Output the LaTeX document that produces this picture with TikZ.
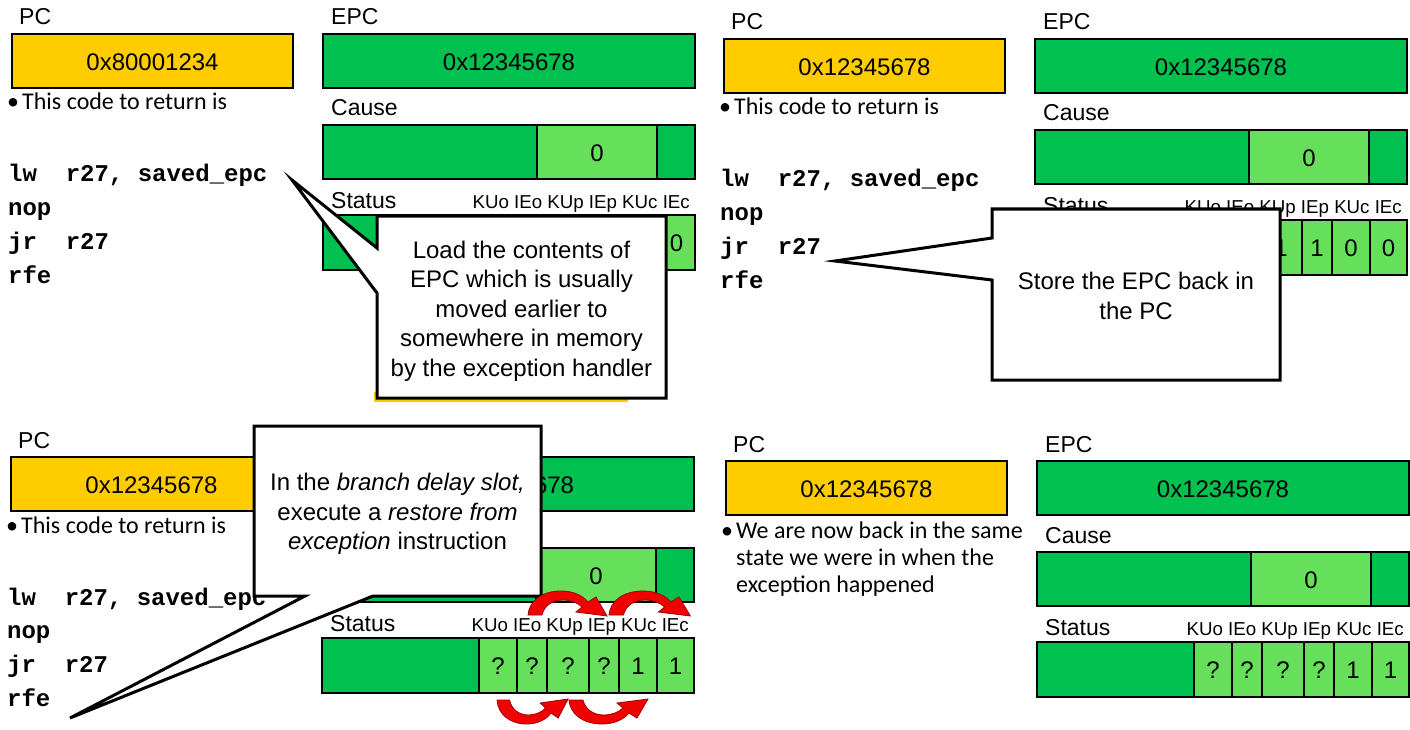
\documentclass[tikz,border=0pt]{standalone}
\usepackage{fontspec}
\setmainfont{Liberation Sans}
\newfontfamily\calfont{Carlito}
\newfontfamily\codefont{Liberation Mono}
\definecolor{pcyel}{HTML}{FFCC00}
\definecolor{dkg}{HTML}{00C050}
\definecolor{ltg}{HTML}{66E05A}
\definecolor{arrred}{HTML}{F00000}
\definecolor{arredge}{HTML}{A00000}
\newif\ifhidelbl
\tikzset{
  box/.style={draw=black, line width=1.1pt},
  val/.style={font=\fontsize{24}{28}\selectfont, inner sep=0pt},
  lbl/.style={font=\fontsize{23}{27}\selectfont, anchor=base west, inner sep=0pt},
  bits/.style={font=\fontsize{18.7}{22}\selectfont, anchor=base east, inner sep=0pt},
  bul/.style={font=\calfont\fontsize{24}{27}\selectfont, anchor=base west, inner sep=0pt},
  code/.style={font=\codefont\bfseries\fontsize{24}{28}\selectfont, anchor=base west, inner sep=0pt},
  callout/.style={draw=black, fill=white, line width=3pt, line join=miter},
  cotext/.style={font=\fontsize{24}{29.5}\selectfont, align=center, inner sep=0pt},
  redarrow/.style={fill=arrred, draw=arredge, line width=0.8pt, line join=miter},
}
% registers of one panel, in the coordinates of the top-left panel
\newcommand\regs[8]{%
  \draw[box, fill=pcyel] (12,34) rectangle (293,88);
  \node[val] (#1pcv) at (152.5,62) {#2};
  \node[lbl] (#1pcl) at (19,25) {PC};
  \draw[box, fill=dkg] (323,34) rectangle (695,88);
  \node[val] (#1epcv) at (509,62) {0x12345678};
  \ifhidelbl\else
    \node[lbl] (#1epcl) at (331,25) {EPC};
    \node[lbl] (#1causel) at (331,116) {Cause};
  \fi
  \draw[box, fill=dkg] (323,125) rectangle (695,179);
  \draw[box, fill=ltg] (537,125) rectangle (657,179);
  \node[val] (#1causev) at (597,153) {0};
  \node[lbl] (#1statl) at (331,208) {Status};
  \node[bits] (#1bits) at (690,208) {KUo IEo KUp IEp KUc IEc};
  \draw[box, fill=dkg] (323,215) rectangle (695,270);
  \foreach \a/\b in {480/518,518/548,548/590,590/620,620/658,658/695}
    \draw[box, fill=ltg] (\a,215) rectangle (\b,270);
  \node[val] (#1kuo) at (499,243) {#3};
  \node[val] (#1ieo) at (533,243) {#4};
  \node[val] (#1kup) at (569,243) {#5};
  \node[val] (#1iep) at (605,243) {#6};
  \node[val] (#1kuc) at (639,243) {#7};
  \node[val] (#1iec) at (676.5,243) {#8};
}
\newcommand\codeblock[1]{%
  \node[bul] (#1dot) at (7,110) {•};
  \node[bul] (#1btext) at (22,110) {This code to return is};
  \node[code] (#1l1) at (8,182) {lw\ \ r27, saved\_epc};
  \node[code] (#1l2) at (8,215.5) {nop};
  \node[code] (#1l3) at (8,249) {jr\ \ r27};
  \node[code] (#1l4) at (8,283) {rfe};
}
\newcommand\carrow{%
  \path[redarrow] (0,0) .. controls (1,-14) and (14,-24) .. (33,-24)
    .. controls (46,-24) and (55,-19) .. (60,-13) -- (68,-18) -- (79,1)
    -- (48,-3) -- (54,-8) .. controls (50,-12) and (43,-15) .. (35,-15)
    .. controls (24,-15) and (16,-9) .. (14,0) -- cycle;
}
\begin{document}
\begin{tikzpicture}[x=1pt,y=-1pt]
\useasboundingbox (0,0) rectangle (1410,730);
\fill[white] (0,0) rectangle (1410,730);
% panel 1
\begin{scope}
  \regs{a}{0x80001234}{}{}{}{}{}{0}
  \codeblock{a}
\end{scope}
% panel 2
\begin{scope}[shift={(712,5)}]
  \regs{b}{0x12345678}{}{}{1}{1}{0}{0}
  \codeblock{b}
\end{scope}
% panel 3 (its EPC and Cause labels lie under the callout)
\begin{scope}[shift={(-1,423)}]
  \hidelbltrue
  \regs{c}{0x12345678}{?}{?}{?}{?}{1}{1}
  \hidelblfalse
  \codeblock{c}
\end{scope}
% panel 4
\begin{scope}[shift={(714,427)}]
  \regs{d}{0x12345678}{?}{?}{?}{?}{1}{1}
  \node[bul] (ddot) at (7,111) {•};
  \node[bul] (dt1) at (22,111) {We are now back in the same};
  \node[bul] (dt2) at (22,138) {state we were in when the};
  \node[bul] (dt3) at (22,165) {exception happened};
\end{scope}
% callout 1
\fill[pcyel] (374,392) rectangle (628,402);
\path[callout] (377,216) -- (666,216) -- (666,398) -- (377,398) -- (377,293)
  -- (292,180) -- (377,248) -- cycle;
\node[cotext] (co1) at (521.5,311) {Load the contents of\\EPC which is usually\\moved earlier to\\somewhere in memory\\by the exception handler};
% callout 2
\path[callout] (992,209) -- (1280,209) -- (1280,380) -- (992,380) -- (992,280)
  -- (835,261) -- (992,238) -- cycle;
\node[cotext] (co2) at (1136,296) {Store the EPC back in\\the PC};
% callout 3
\path[callout] (254,426) -- (541,426) -- (541,596) -- (373,596) -- (70,718)
  -- (305,596) -- (254,596) -- cycle;
\node[cotext] (co3) at (397.5,514) {In the \textit{branch delay slot,}\\execute a \textit{restore from}\\\textit{exception} instruction};
% red curved arrows of panel 3
\begin{scope}[shift={(528,615)}] \carrow \end{scope}
\begin{scope}[shift={(609,615)}, xscale=1.03] \carrow \end{scope}
\begin{scope}[shift={(497,700)}, xscale=0.9, yscale=-1] \carrow \end{scope}
\begin{scope}[shift={(569,700)}, yscale=-1] \carrow \end{scope}
\end{tikzpicture}
\end{document}
